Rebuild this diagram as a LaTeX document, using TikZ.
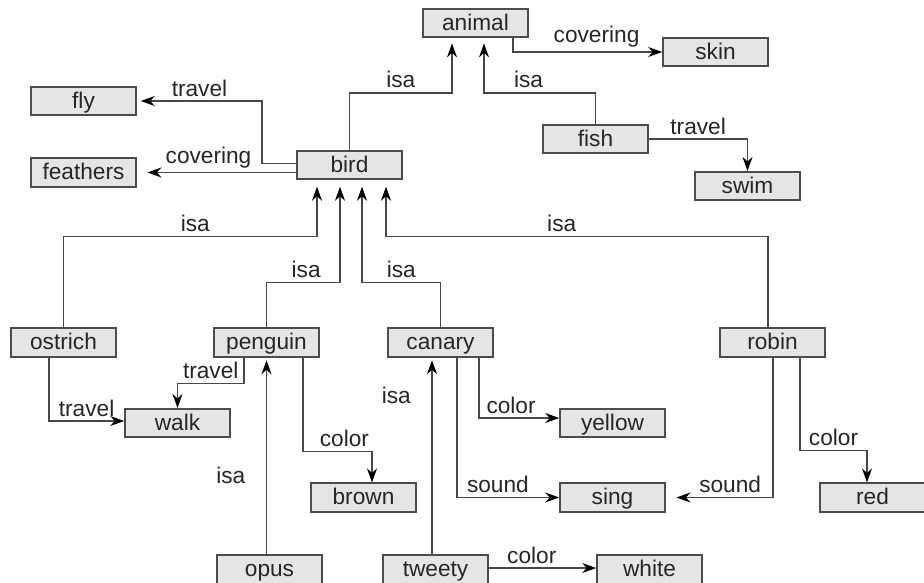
\documentclass[tikz,border=0pt]{standalone}
\usepackage{fontspec}
\setmainfont{Liberation Sans}
\usetikzlibrary{arrows.meta,calc}

\begin{document}
\begin{tikzpicture}[x=0.75pt,y=-0.75pt,
    concept/.style={draw=black!70,line width=1.2pt,fill=black!10,minimum width=78.75pt,
      minimum height=21.4pt,inner sep=0pt,text height=12.5pt,text depth=1.5pt,
      text=black!85,font=\fontsize{17}{19}\selectfont},
    link/.style={draw=black!72,line width=1.1pt,-{Stealth[length=10.5pt,width=7.5pt,black]}},
    lbl/.style={above,inner sep=3pt,text=black!85,font=\fontsize{17}{19}\selectfont}]
    \useasboundingbox (0,0) rectangle (924,582);
    \clip (0,0) rectangle (924,582);

    \node[concept] (animal)   at (475.5,23)    {animal};
    \node[concept] (skin)     at (715.5,52)    {skin};
    \node[concept] (fly)      at (83.5,101)    {fly};
    \node[concept] (feathers) at (83.5,172.5)  {feathers};
    \node[concept] (bird)     at (349.5,165)   {bird};
    \node[concept] (fish)     at (595.5,139)   {fish};
    \node[concept] (swim)     at (747.5,186)   {swim};
    \node[concept] (ostrich)  at (63.5,342.5)  {ostrich};
    \node[concept] (penguin)  at (266.5,342.5) {penguin};
    \node[concept] (canary)   at (440.5,342.5) {canary};
    \node[concept] (robin)    at (772.5,342.5) {robin};
    \node[concept] (walk)     at (177.5,423)   {walk};
    \node[concept] (yellow)   at (612.5,423)   {yellow};
    \node[concept] (brown)    at (363.5,497.5) {brown};
    \node[concept] (sing)     at (612.5,497.5) {sing};
    \node[concept] (red)      at (872.5,497.5) {red};
    \node[concept] (opus)     at (269.5,569.5) {opus};
    \node[concept] (tweety)   at (435.5,569.5) {tweety};
    \node[concept] (white)    at (649.5,569.5) {white};

    \draw[link,shorten >=4pt] (bird.north) -- ++(0,-57) -| node[lbl,pos=0.25] {isa} ($(animal.south)+(-23.5,0)$);
    \draw[link] ($(animal.south)+(37.5,0)$) |- node[lbl,pos=0.78] {covering} (skin.west);
    \draw[link,shorten >=4pt] (fish.north) -- ++(0,-31) -| node[lbl,pos=0.3] {isa} ($(animal.south)+(8.5,0)$);
    \draw[link] (fish.east) -| node[lbl,pos=0.25] {travel} (swim.north);
    \draw[link,shorten >=3pt] ($(bird.west)+(0,-1.5)$) -- ++(-34,0) |- node[lbl,pos=0.75] {travel} (fly.east);
    \draw[link,shorten >=8pt] (bird.west |- feathers.east) -- node[lbl,pos=0.55] {covering} (feathers.east);

    \draw[link,shorten >=5pt] (ostrich.north) -- ++(0,-91) -| node[lbl,pos=0.26] {isa} ($(bird.south)+(-32.5,0)$);
    \draw[link,shorten >=5pt] (penguin.north) -- ++(0,-45) -| node[lbl,pos=0.27] {isa} ($(bird.south)+(-9.5,0)$);
    \draw[link,shorten >=5pt] (canary.north) -- ++(0,-45) -| node[lbl,pos=0.25] {isa} ($(bird.south)+(12.5,0)$);
    \draw[link,shorten >=5pt] ($(robin.north)+(-4.5,0)$) -- ++(0,-91) -| node[lbl,pos=0.27] {isa} ($(bird.south)+(36.5,0)$);

    \draw[link] ($(ostrich.south)+(-14.5,0)$) |- node[lbl,pos=0.75] {travel} ($(walk.west)+(0,-2)$);
    \draw[link] ($(penguin.south)+(-22.5,0)$) -- ++(0,26) -| node[lbl,pos=0.25] {travel} (walk.north);
    \draw[link,shorten >=2pt] (opus.north -| penguin.south) -- node[left=12pt,pos=0.4,text=black!85,font=\fontsize{17}{19}\selectfont] {isa} (penguin.south);
    \draw[link] ($(penguin.south)+(36.5,0)$) -- ++(0,94) -| node[lbl,pos=0.3] {color} ($(brown.north)+(8.5,0)$);
    \draw[link,shorten >=2pt] ($(tweety.north)+(-3.5,0)$) -- node[left=12pt,pos=0.81,text=black!85,font=\fontsize{17}{19}\selectfont] {isa} ($(canary.south)+(-8.5,0)$);
    \draw[link] ($(canary.south)+(38.5,0)$) |- node[lbl,pos=0.7] {color} ($(yellow.west)+(0,-5)$);
    \draw[link] ($(canary.south)+(16.5,0)$) |- node[lbl,pos=0.7] {sound} (sing.west);
    \draw[link,shorten >=8pt] ($(robin.south)+(0.5,0)$) |- node[lbl,pos=0.7] {sound} (sing.east);
    \draw[link] ($(robin.south)+(27.5,0)$) -- ++(0,93) -| node[lbl,pos=0.25] {color} ($(red.north)+(-5.5,0)$);
    \draw[link] ($(tweety.east)+(0,-1.5)$) -- node[lbl,pos=0.4] {color} ($(white.west)+(0,-1.5)$);
\end{tikzpicture}
\end{document}
